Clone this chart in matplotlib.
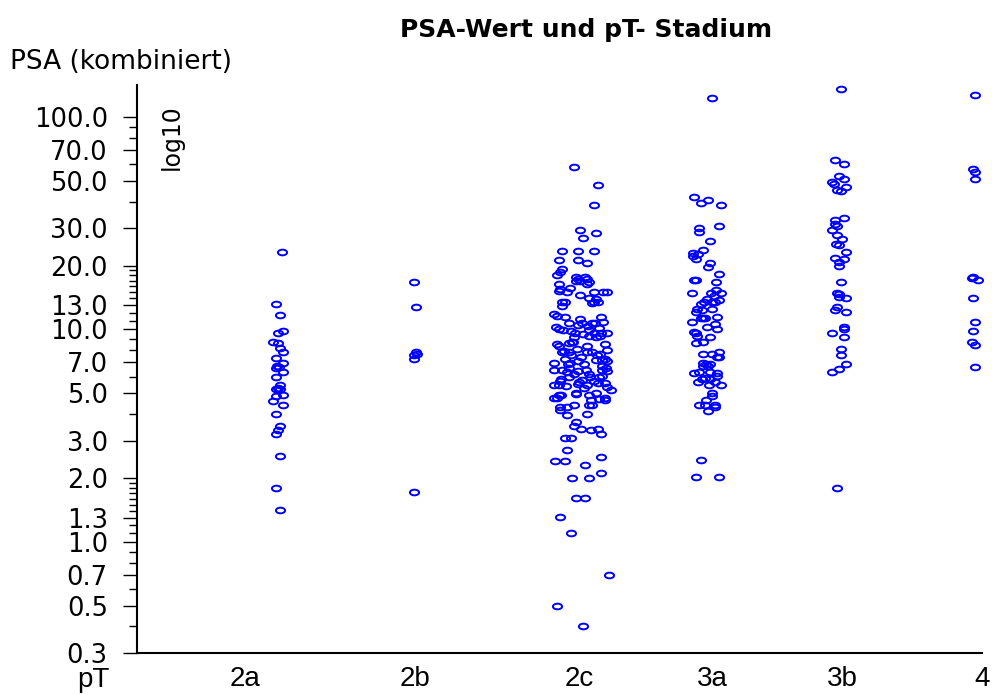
import numpy as np
import matplotlib
matplotlib.use('Agg')
import matplotlib.pyplot as plt
from matplotlib.path import Path
from matplotlib.ticker import FixedLocator, NullFormatter

# pT categories: tick label position and data (x offset along axis, PSA value)
categories = ['2a', '2b', '2c', '3a', '3b', '4']
cat_pos = [108, 278, 443, 576, 706, 846]

x_2a = [145, 139, 143, 146, 141, 136, 141, 143, 146, 139, 146, 140, 142, 139, 146, 139,
        143, 141, 143, 139, 146, 139, 136, 146, 139, 143, 141, 139, 143, 139, 143]
psa_2a = [23.2, 13.2, 11.7, 9.83, 9.66, 8.75, 8.6, 8.2, 7.8, 7.33, 6.97, 6.7, 6.65, 6.6, 6.32, 6.0,
          5.47, 5.31, 5.24, 5.24, 4.94, 4.85, 4.63, 4.42, 4.01, 3.51, 3.36, 3.23, 2.54, 1.80, 1.41]

x_2b = [277, 279, 279, 280, 277, 277, 277]
psa_2b = [16.8, 12.7, 7.8, 7.7, 7.6, 7.23, 1.71]

x_2c = [438, 462, 458, 444, 460, 447,
        426, 442, 458,
        422, 442, 451,
        426, 424, 420,
        440, 449, 442, 451, 440, 444, 453, 451,
        422, 424, 434, 431, 422,
        444, 458, 467, 471,
        453, 460, 458, 462, 456,
        426, 429, 426,
        417, 420, 429, 465, 467,
        444, 446, 442, 456, 459, 433,
        419, 422, 435,
        447, 453, 458, 465, 471,
        438, 436, 453, 460, 464,
        420, 422, 433, 437, 469, 471, 451,
        426, 433, 441, 451, 456, 464,
        429, 445, 460, 466, 471, 469,
        417, 434, 442, 448,
        417, 426, 433, 442, 450, 466, 471,
        425, 433, 438, 446, 454, 466,
        417, 422, 442, 451, 462, 469, 471,
        422, 440, 453, 460, 469, 417,
        440, 425, 420, 455, 469, 463,
        424, 424, 431, 438, 453, 456,
        431, 451,
        440, 438, 445, 455, 462, 465,
        429, 435,
        431,
        418, 429, 449, 465,
        436, 453, 465,
        440, 449,
        424, 435, 473, 420, 447,
        428, 435, 461,
        432, 466, 470,
        431, 453, 463,
        423, 443, 458, 430, 448, 475,
        452, 463, 439, 427]
psa_2c = [58, 47.7, 38.7, 29.3, 28.3, 26.9,
          23.3, 23.3, 23.3,
          21.2, 21.2, 20.5,
          19.2, 18.6, 18.0,
          17.6, 17.6, 17.2, 17.2, 17.0, 16.9, 16.8, 16.3,
          16.3, 15.5, 15.6, 15.0, 15.2,
          14.5, 15.0, 15.0, 15.0,
          14.1, 13.9, 13.4, 13.4, 13.3,
          13.5, 13.4, 12.9,
          11.8, 11.6, 11.4, 11.4, 10.8,
          11.2, 10.7, 10.5, 10.7, 10.7, 10.7,
          10.3, 10.1, 9.8,
          9.5, 9.93, 9.66, 9.66, 9.66,
          9.25, 8.69, 9.3, 9.2, 9.3,
          8.53, 8.35, 8.63, 8.75, 8.5, 8.0, 8.35,
          7.83, 7.8, 8.1, 7.83, 7.83, 7.7,
          7.3, 7.45, 7.2, 7.2, 7.07, 7.3,
          6.98, 6.98, 7.07, 6.9,
          6.44, 6.44, 6.6, 6.4, 6.44, 6.44, 6.4,
          5.85, 6.0, 6.15, 5.8, 6.0, 6.05,
          5.5, 5.45, 5.55, 5.5, 5.6, 5.6, 5.35,
          4.9, 5.0, 4.9, 5.0, 4.75, 4.75,
          4.95, 4.9, 4.75, 4.65, 4.65, 4.72,
          4.3, 4.2, 4.3, 4.4, 4.4, 4.4,
          3.95, 4.0,
          3.65, 3.5, 3.4, 3.35, 3.4, 3.23,
          3.1, 3.1,
          2.72,
          2.4, 2.4, 2.3, 2.5,
          2.0, 2.0, 2.1,
          1.61, 1.61,
          1.31, 1.1, 0.70, 0.50, 0.40,
          7.9, 7.6, 7.6,
          6.9, 6.75, 6.6,
          6.3, 6.2, 5.95,
          5.7, 5.65, 5.75, 5.4, 5.3, 5.2,
          10.4, 10.2, 9.6, 9.9]

x_3a = [576, 558, 572, 565, 585, 583, 563, 563, 574, 567, 557, 562, 557, 560, 574, 572,
        583, 558, 560, 580, 556, 575, 580, 585, 578, 571, 583, 565, 568, 576, 579, 561,
        576, 566, 560, 565, 567, 569, 581, 556, 579, 571, 581, 558, 560, 561, 574, 560,
        567, 583, 567, 576, 581, 583, 567, 570, 574, 567, 572, 558, 563, 574, 581, 581,
        569, 574, 566, 562, 579, 573, 585, 576, 576, 570, 569, 563, 579, 579, 572, 565,
        560, 583]
psa_3a = [122.8, 41.9, 40.5, 39.3, 38.5, 30.8, 29.9, 28.8, 26.1, 23.7, 23.0, 22.6, 22.2, 21.4, 20.5, 19.7,
          18.2, 17.1, 17.1, 16.8, 14.8, 14.8, 15.3, 14.8, 14.3, 13.9, 13.8, 13.2, 13.4, 13.4, 13.5, 12.5,
          12.5, 12.4, 12.1, 11.3, 11.3, 11.3, 11.5, 10.8, 10.6, 10.3, 10.1, 9.7, 9.6, 9.3, 9.18, 8.6,
          8.73, 7.8, 7.66, 7.66, 7.41, 7.45, 6.95, 6.87, 6.87, 6.75, 6.75, 6.21, 6.3, 6.3, 6.21, 6.04,
          5.93, 5.86, 5.82, 5.67, 5.67, 5.47, 5.47, 5.0, 4.87, 4.65, 4.42, 4.42, 4.42, 4.32, 4.13, 2.42,
          2.02, 2.02]

x_3b = [705, 699, 708, 703, 708, 696, 698, 710, 701, 705, 708, 699, 699, 701, 696, 701,
        706, 700, 703, 710, 699, 708, 703, 703, 705, 701, 703, 703, 710, 701, 699, 710,
        708, 708, 696, 708, 705, 705, 710, 703, 696, 701]
psa_3b = [135.5, 63, 60, 52.6, 51, 49.3, 48.5, 46.8, 45.5, 44.7, 33.3, 32.7, 31.3, 30.7, 29.3, 27.8,
          26.6, 25.3, 24.9, 23.2, 21.8, 21.5, 20.7, 20.0, 16.8, 14.8, 14.7, 14.2, 14.0, 12.7, 12.3, 12.1,
          10.3, 10.1, 9.66, 9.18, 8.05, 7.55, 6.86, 6.53, 6.30, 1.80]

x_4 = [839, 837, 839, 839, 837, 836, 842, 837, 839, 837, 836, 839, 839]
psa_4 = [127, 57.1, 55.2, 51.0, 17.6, 17.5, 17.1, 14.0, 10.8, 9.8, 8.76, 8.45, 6.63]

y_major = [0.3, 0.5, 0.7, 1.0, 1.3, 2.0, 3.0, 5.0, 7.0, 10.0, 13.0, 20.0, 30.0, 50.0, 70.0, 100.0]
y_minor = [0.4, 0.6, 0.8, 0.9, 1.1, 1.2, 1.4, 1.5, 1.6, 1.7, 1.8, 1.9, 4, 6, 8, 9, 11, 12,
           14, 15, 16, 17, 18, 19, 40, 60, 80, 90]

W, H = 992, 695
fig = plt.figure(figsize=(W / 100, H / 100), dpi=100)
ax = fig.add_axes([137 / W, 1 - 653 / H, (982 - 137) / W, (653 - 85) / H])

# flattened circle marker, as in the original rendering
circ = Path.unit_circle()
ellipse = Path(circ.vertices * np.array([1.0, 0.62]), circ.codes)

for xs, ys in [(x_2a, psa_2a), (x_2b, psa_2b), (x_2c, psa_2c),
               (x_3a, psa_3a), (x_3b, psa_3b), (x_4, psa_4)]:
    ax.plot(xs, ys, linestyle='none', marker=ellipse, markersize=6.6,
            markerfacecolor='none', markeredgecolor='#0000ff', markeredgewidth=1.4,
            clip_on=False)

ax.set_yscale('log')
ax.set_ylim(0.3, 141.5)
ax.set_xlim(0, 845)

ax.yaxis.set_major_locator(FixedLocator(y_major))
ax.yaxis.set_minor_locator(FixedLocator(y_minor))
ax.yaxis.set_minor_formatter(NullFormatter())
ax.set_yticklabels(['%.1f' % v for v in y_major], fontsize=18.5, family='DejaVu Sans')
ax.tick_params(axis='y', which='major', length=10, width=1.0, pad=11, direction='out')
ax.tick_params(axis='y', which='minor', length=5.5, width=1.0, direction='out')

ax.set_xticks(cat_pos)
ax.set_xticklabels(categories, fontsize=20, family='Liberation Sans')
ax.tick_params(axis='x', length=0, pad=9)
for lab in ax.get_xticklabels():
    lab.set_clip_on(False)

for s in ['top', 'right']:
    ax.spines[s].set_visible(False)
ax.spines['left'].set_linewidth(1.5)
ax.spines['bottom'].set_linewidth(1.5)

fig.text(586 / W, 1 - 30 / H, 'PSA-Wert und pT- Stadium', ha='center', va='center',
         fontsize=18, fontweight='bold', family='DejaVu Sans')
fig.text(10 / W, 1 - 62 / H, 'PSA (kombiniert)', ha='left', va='center',
         fontsize=19, family='DejaVu Sans')
fig.text(93 / W, 1 - 680 / H, 'pT', ha='center', va='center',
         fontsize=20, family='Liberation Sans')
fig.text(172 / W, 1 - 137 / H, 'log10', ha='center', va='center', rotation=90,
         fontsize=17, family='DejaVu Sans')

fig.savefig('out.png', dpi=100)
